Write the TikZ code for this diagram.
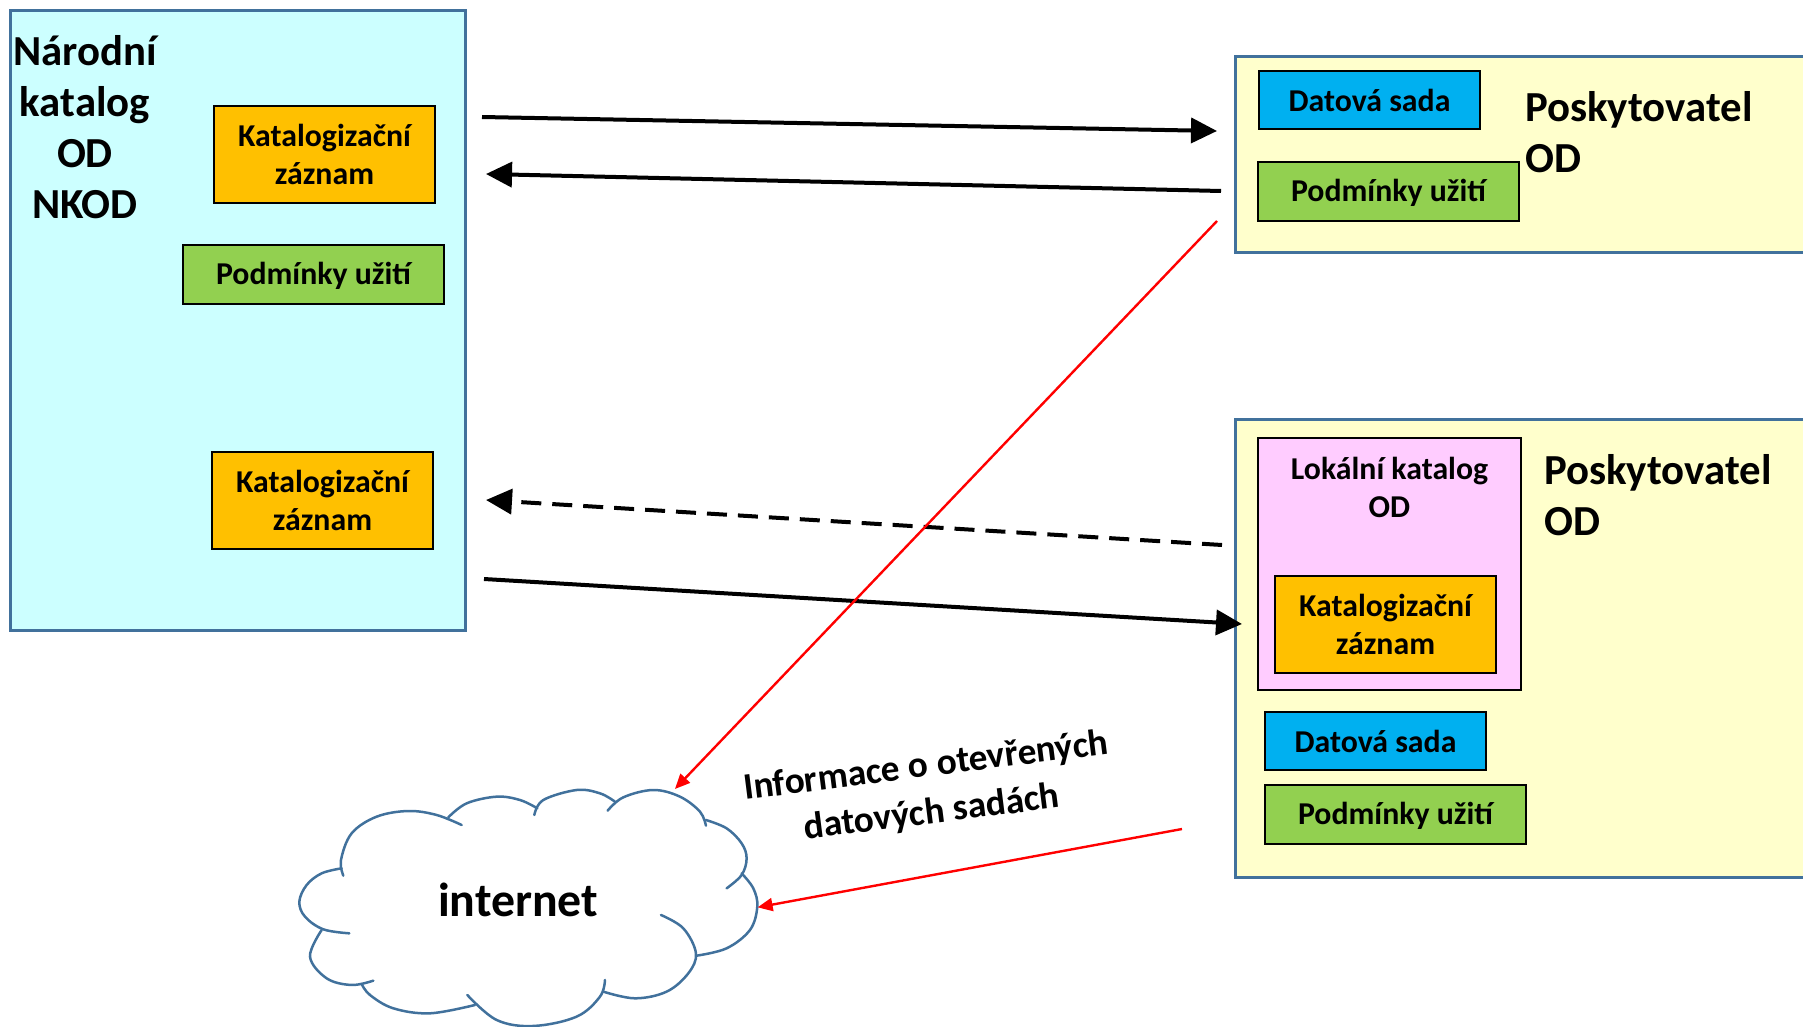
\documentclass[tikz,border=0pt]{standalone}
\usepackage{fontspec}
\setmainfont{Carlito}[BoldFont={Carlito Bold}]
\usetikzlibrary{arrows.meta}
\definecolor{bordblue}{HTML}{41719C}
\definecolor{cyanbg}{HTML}{CCFFFF}
\definecolor{yellowbg}{HTML}{FFFFCC}
\definecolor{pinkbg}{HTML}{FFCCFF}
\definecolor{orangebx}{HTML}{FFC000}
\definecolor{bluebx}{HTML}{00B0F0}
\definecolor{greenbx}{HTML}{92D050}
\newcommand\cloudarc[1]{\draw[cloudline] plot[smooth,tension=0.6] coordinates {#1};}
\tikzset{
  bx/.style={anchor=north west,draw=black,line width=2pt,inner sep=0pt,outer sep=0pt,align=center,
    font=\fontsize{31.8}{38}\selectfont\bfseries},
  orangebox/.style={bx,fill=orangebx,minimum width=221pt,minimum height=97pt},
  bluebox/.style={bx,fill=bluebx,minimum width=221pt,minimum height=58pt},
  greenbox/.style={bx,fill=greenbx,minimum width=261pt,minimum height=59pt,text depth=2.5pt},
  bigtext/.style={align=left,inner sep=0pt,font=\fontsize{42.8}{51}\selectfont\bfseries},
  provider/.style={anchor=north west,fill=yellowbg,inner sep=0pt,outer sep=0pt},
  provline/.style={draw=bordblue,line width=3pt},
  blackarrow/.style={black,line width=4pt,-{Triangle[length=26pt,width=25pt]}},
  redarrow/.style={red,line width=2.4pt,-{Triangle[length=15pt,width=13pt]}},
  cloudline/.style={draw=bordblue,line width=2.5pt,line cap=round},
}
\begin{document}
\begin{tikzpicture}[x=1pt,y=-1pt]
\useasboundingbox (0,0) rectangle (1803,1027);
% main panels
\node[anchor=north west,draw=bordblue,line width=3pt,fill=cyanbg,minimum width=455pt,minimum height=619pt,inner sep=0pt,outer sep=0pt] (nkod) at (10,11) {};
\node[provider,minimum width=568pt,minimum height=196pt] (prov1) at (1235,57) {};
\draw[provline] (1803,57) -- (1235,57) -- (1235,252) -- (1803,252);
\node[provider,minimum width=568pt,minimum height=458pt] (prov2) at (1235,419) {};
\draw[provline] (1803,419) -- (1235,419) -- (1235,877) -- (1803,877);
% left panel
\node[bigtext,align=center,anchor=north] (nkodt) at (85,35) {Národní\\katalog\\OD\\NKOD};
\node[orangebox] (kz1) at (214,106) {Katalogizační\\záznam};
\node[greenbox] (pu1) at (183,245) {Podmínky užití};
\node[orangebox] (kz2) at (212,452) {Katalogizační\\záznam};
% provider 1
\node[bluebox] (ds1) at (1259,71) {Datová sada};
\node[greenbox] (pu2) at (1258,162) {Podmínky užití};
\node[bigtext,anchor=north west] (p1t) at (1525,91) {Poskytovatel\\OD};
% provider 2
\node[bx,fill=pinkbg,minimum width=263pt,minimum height=252pt] (lk) at (1258,438) {};
\node[anchor=north,align=center,inner sep=0pt,font=\fontsize{31.8}{38}\selectfont\bfseries] (lkt) at (1389.5,457) {Lokální katalog\\OD};
\node[orangebox] (kz3) at (1275,576) {Katalogizační\\záznam};
\node[bluebox] (ds2) at (1265,712) {Datová sada};
\node[greenbox] (pu3) at (1265,785) {Podmínky užití};
\node[bigtext,anchor=north west] (p2t) at (1544,454) {Poskytovatel\\OD};
% cloud
\begin{scope}[shift={(280,760)},x=0.3333pt,y=-0.3333pt]
\cloudarc{(190,347)(183,300)(215,220)(290,170)(385,153)(470,165)(545,195)}
\cloudarc{(505,172)(560,130)(650,110)(720,120)(772,145)}
\cloudarc{(763,165)(790,120)(890,90)(960,100)(1005,125)}
\cloudarc{(983,152)(1030,112)(1120,90)(1200,110)(1260,155)(1278,197)}
\cloudarc{(1278,180)(1340,205)(1385,250)(1400,295)(1385,345)(1340,385)}
\cloudarc{(1385,340)(1420,385)(1432,440)(1410,510)(1340,565)(1250,587)}
\cloudarc{(1143,465)(1210,505)(1248,580)(1225,640)(1160,695)(1065,715)(970,695)}
\cloudarc{(975,660)(960,710)(890,770)(760,798)(650,780)(562,705)}
\cloudarc{(585,735)(450,760)(340,745)(270,705)(245,672)}
\cloudarc{(280,662)(215,675)(140,655)(90,590)(125,510)}
\cloudarc{(208,520)(130,508)(75,470)(58,425)(80,375)(125,340)(185,325)}
\coordinate (cloudtop) at (1185,87);
\coordinate (cloudright) at (1433,442);
\end{scope}
\node[inner sep=0pt,font=\fontsize{47.8}{50}\selectfont\bfseries] (inet) at (518,900) {internet};
\node[inner sep=0pt,align=center,rotate=7.2,font=\fontsize{37.3}{47}\selectfont\bfseries] (info) at (929,790) {Informace o otevřených\\datových sadách};
% connector ends
\coordinate (a1s) at (482,117);
\coordinate (a1e) at (1217,131);
\coordinate (a2s) at (1221,191);
\coordinate (a2e) at (486,174);
\coordinate (r1s) at (1217,221);
\coordinate (d1s) at (1222,545);
\coordinate (d1e) at (486,500);
\coordinate (a3s) at (484,579);
\coordinate (a3e) at (1242,624);
\coordinate (r2s) at (1182,829);
% connectors
\draw[blackarrow] (a1s) -- (a1e);
\draw[blackarrow] (a2s) -- (a2e);
\draw[blackarrow,dash pattern=on 20pt off 11pt] (d1s) -- (d1e);
\draw[blackarrow] (a3s) -- (a3e);
\draw[redarrow] (r1s) -- (cloudtop);
\draw[redarrow] (r2s) -- (cloudright);
\end{tikzpicture}
\end{document}
